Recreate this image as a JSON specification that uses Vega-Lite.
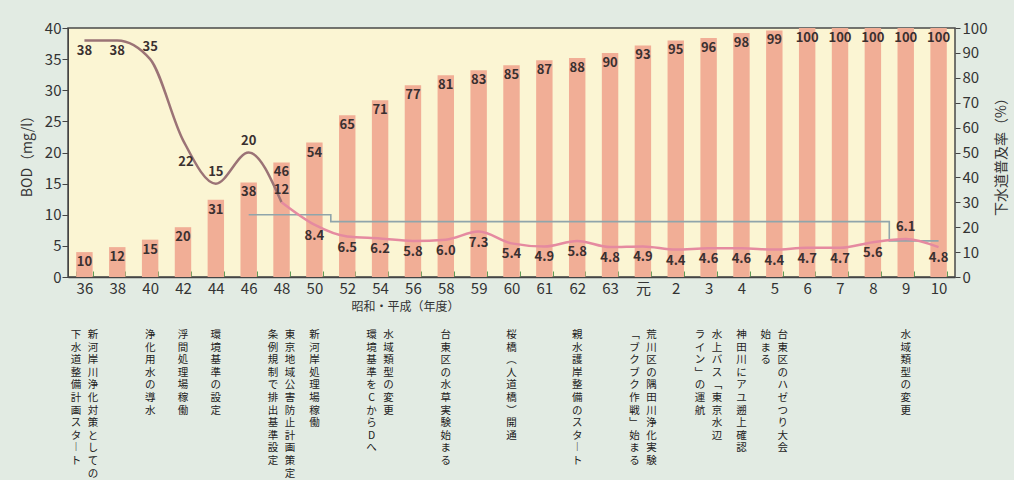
{
  "$schema": "https://vega.github.io/schema/vega-lite/v6.json",
  "width": 887,
  "height": 249,
  "autosize": {"type": "none"},
  "padding": {"left": 68, "top": 28, "right": 59, "bottom": 203},
  "background": "#e2ebe3",
  "config": {
    "font": "Noto Sans CJK JP",
    "view": {"fill": "#fbf5d3", "stroke": "#4a4a4a", "strokeWidth": 1.5},
    "axis": {"labelFont": "Noto Sans CJK JP", "titleFont": "Noto Sans CJK JP", "labelColor": "#333", "titleColor": "#333", "domainColor": "#444", "tickColor": "#444", "grid": false, "titleFontWeight": "normal"}
  },
  "data": {
    "values": [
      {"year": "36", "pct": 10, "bod": 38, "note1": "新河岸川浄化対策としての", "note2": "下水道整備計画スタート"},
      {"year": "38", "pct": 12, "bod": 38},
      {"year": "40", "pct": 15, "bod": 35, "note1": "浄化用水の導水"},
      {"year": "42", "pct": 20, "bod": 22, "note1": "浮間処理場稼働"},
      {"year": "44", "pct": 31, "bod": 15, "note1": "環境基準の設定"},
      {"year": "46", "pct": 38, "bod": 20, "std": 10},
      {"year": "48", "pct": 46, "bod": 12, "std": 10, "note1": "東京地域公害防止計画策定", "note2": "条例規制で排出基準設定"},
      {"year": "50", "pct": 54, "bod": 8.4, "std": 10, "note1": "新河岸処理場稼働"},
      {"year": "52", "pct": 65, "bod": 6.5, "std": 8.9},
      {"year": "54", "pct": 71, "bod": 6.2, "std": 8.9, "note1": "水域類型の変更", "note2": "環境基準をCからDへ"},
      {"year": "56", "pct": 77, "bod": 5.8, "std": 8.9},
      {"year": "58", "pct": 81, "bod": 6.0, "std": 8.9, "note1": "台東区の水草実験始まる"},
      {"year": "59", "pct": 83, "bod": 7.3, "std": 8.9},
      {"year": "60", "pct": 85, "bod": 5.4, "std": 8.9, "note1": "桜橋（人道橋）開通"},
      {"year": "61", "pct": 87, "bod": 4.9, "std": 8.9},
      {"year": "62", "pct": 88, "bod": 5.8, "std": 8.9, "note1": "親水護岸整備のスタート"},
      {"year": "63", "pct": 90, "bod": 4.8, "std": 8.9},
      {"year": "元", "pct": 93, "bod": 4.9, "std": 8.9, "note1": "荒川区の隅田川浄化実験", "note2": "「ブクブク作戦」始まる"},
      {"year": "2", "pct": 95, "bod": 4.4, "std": 8.9},
      {"year": "3", "pct": 96, "bod": 4.6, "std": 8.9, "note1": "水上バス「東京水辺", "note2": "ライン」の運航"},
      {"year": "4", "pct": 98, "bod": 4.6, "std": 8.9, "note1": "神田川にアユ遡上確認"},
      {"year": "5", "pct": 99, "bod": 4.4, "std": 8.9, "note1": "台東区のハゼつり大会", "note2": "始まる"},
      {"year": "6", "pct": 100, "bod": 4.7, "std": 8.9},
      {"year": "7", "pct": 100, "bod": 4.7, "std": 8.9},
      {"year": "8", "pct": 100, "bod": 5.6, "std": 8.9},
      {"year": "9", "pct": 100, "bod": 6.1, "std": 5.8, "note1": "水域類型の変更"},
      {"year": "10", "pct": 100, "bod": 4.8, "std": 5.8}
    ]
  },
  "encoding": {
    "x": {
      "field": "year",
      "type": "nominal",
      "scale": {"domain": ["36","38","40","42","44","46","48","50","52","54","56","58","59","60","61","62","63","元","2","3","4","5","6","7","8","9","10"], "paddingInner": 0.5},
      "axis": {"title": "昭和・平成（年度）", "labelAngle": 0, "labelFontSize": 15, "labelPadding": 10, "tickBand": "extent", "tickColor": "#5f9a55", "tickSize": -6, "domainWidth": 1.5, "titleFontSize": 12, "titleX": 337, "titleY": 24, "titleBaseline": "top"}
    }
  },
  "layer": [
    {
      "encoding": {
        "y": {"field": "pct", "type": "quantitative", "scale": {"domain": [0, 100]}, "title": "下水道普及率（%）",
          "axis": {"orient": "right", "values": [0,10,20,30,40,50,60,70,80,90,100], "labelFontSize": 15, "labelPadding": 2, "tickSize": 5, "titleAngle": -90, "titleFontSize": 14, "titleX": 46, "titleY": 125, "titleAlign": "center", "titleBaseline": "middle", "domain": false}}
      },
      "layer": [
        {"mark": {"type": "bar", "color": "#f1ae96"}},
        {"mark": {"type": "text", "fontSize": 13, "fontWeight": "bold", "color": "#3a3030", "dy": 10, "baseline": "middle"}, "encoding": {"text": {"field": "pct", "type": "quantitative"}}}
      ]
    },
    {
      "encoding": {
        "y": {"field": "bod", "type": "quantitative", "scale": {"domain": [0, 40]}, "title": "BOD（mg/l）",
          "axis": {"orient": "left", "values": [0,5,10,15,20,25,30,35,40], "labelFontSize": 15, "labelPadding": 1, "tickSize": 6, "titleFontSize": 14, "titlePadding": 10}}
      },
      "layer": [
        {"mark": {"type": "line", "interpolate": "step", "color": "#8fa5ab", "strokeWidth": 1.6},
         "encoding": {"y": {"field": "std", "type": "quantitative", "scale": {"domain": [0, 40]}, "title": "BOD（mg/l）"}}},
        {"transform": [{"filter": {"field": "year", "oneOf": ["36","38","40","42","44","46","48"]}}],
         "mark": {"type": "line", "interpolate": "monotone", "color": "#9b7376", "strokeWidth": 2.5}},
        {"transform": [{"filter": {"not": {"field": "year", "oneOf": ["36","38","40","42","44","46"]}}}],
         "mark": {"type": "line", "interpolate": "monotone", "color": "#e58aa0", "strokeWidth": 2.5}},
        {"transform": [{"filter": {"not": {"field": "year", "oneOf": ["40","42","44","46","48","9"]}}}, {"calculate": "datum.bod < 10 ? format(datum.bod, '.1f') : format(datum.bod, 'd')", "as": "bodLabel"}],
         "mark": {"type": "text", "fontSize": 13, "fontWeight": "bold", "color": "#3a3030", "dy": 11, "baseline": "middle"},
         "encoding": {"text": {"field": "bodLabel", "type": "nominal"}}},
        {"transform": [{"filter": {"field": "year", "oneOf": ["40","44","46","48","9"]}}],
         "mark": {"type": "text", "fontSize": 13, "fontWeight": "bold", "color": "#3a3030", "dy": -12, "baseline": "middle"},
         "encoding": {"text": {"field": "bod", "type": "quantitative"}}},
        {"transform": [{"filter": {"field": "year", "oneOf": ["42"]}}],
         "mark": {"type": "text", "fontSize": 13, "fontWeight": "bold", "color": "#3a3030", "dy": 22, "dx": 3, "baseline": "middle"},
         "encoding": {"text": {"field": "bod", "type": "quantitative"}}},
        {"data": {"values": [{}]},
         "mark": {"type": "text", "fontSize": 18, "color": "#333", "align": "left", "baseline": "middle", "dx": 17, "text": "BOD 小台橋地点の年度平均値"},
         "encoding": {"x": {"datum": "42"}, "y": {"datum": 36.5, "type": "quantitative", "scale": {"domain": [0, 40]}, "title": "BOD（mg/l）"}}},
        {"data": {"values": [{}]},
         "mark": {"type": "rule", "color": "#555", "strokeWidth": 1.2, "xOffset": 30, "x2Offset": -11},
         "encoding": {"x": {"datum": "42"}, "x2": {"datum": "42"}, "y": {"datum": 34.8, "type": "quantitative", "scale": {"domain": [0, 40]}, "title": "BOD（mg/l）"}, "y2": {"datum": 28.9}}},
        {"data": {"values": [{}]},
         "mark": {"type": "point", "shape": "triangle", "filled": true, "color": "#555", "opacity": 1, "size": 45, "angle": 227, "xOffset": -10},
         "encoding": {"x": {"datum": "42"}, "y": {"datum": 29.2, "type": "quantitative", "scale": {"domain": [0, 40]}, "title": "BOD（mg/l）"}}},
        {"data": {"values": [{}]},
         "mark": {"type": "text", "fontSize": 16, "fontWeight": "bold", "color": "#333", "align": "center", "baseline": "middle", "dx": 10, "text": "下水道普及率"},
         "encoding": {"x": {"datum": "元"}, "y": {"datum": 29.1, "type": "quantitative", "scale": {"domain": [0, 40]}, "title": "BOD（mg/l）"}}},
        {"data": {"values": [{}]},
         "mark": {"type": "text", "fontSize": 16, "fontWeight": "bold", "color": "#333", "align": "center", "baseline": "middle", "dx": 7, "text": "（隅田川流域（板橋、北、練馬区）の面積比）"},
         "encoding": {"x": {"datum": "元"}, "y": {"datum": 24.9, "type": "quantitative", "scale": {"domain": [0, 40]}, "title": "BOD（mg/l）"}}},
        {"data": {"values": [{}]},
         "mark": {"type": "text", "fontSize": 15, "fontWeight": "bold", "color": "#333", "align": "center", "baseline": "middle", "dx": 20, "text": "環境基準"},
         "encoding": {"x": {"datum": "62"}, "y": {"datum": 10.5, "type": "quantitative", "scale": {"domain": [0, 40]}, "title": "BOD（mg/l）"}}},
        {"transform": [{"filter": "isValid(datum.note1) && !isValid(datum.note2)"}, {"calculate": "split(replace(replace(replace(replace(replace(datum.note1, 'ー', '︱'), '「', '﹁'), '」', '﹂'), '（', '︵'), '）', '︶'), '')", "as": "chars"}],
         "mark": {"type": "text", "fontSize": 10.5, "color": "#222", "align": "center", "baseline": "top", "dy": 53, "lineHeight": 12.6},
         "encoding": {"y": {"datum": 0, "type": "quantitative", "scale": {"domain": [0, 40]}, "title": "BOD（mg/l）"}, "text": {"field": "chars", "type": "nominal"}}},
        {"transform": [{"filter": "isValid(datum.note2)"}, {"calculate": "split(replace(replace(replace(replace(replace(datum.note1, 'ー', '︱'), '「', '﹁'), '」', '﹂'), '（', '︵'), '）', '︶'), '')", "as": "chars"}],
         "mark": {"type": "text", "fontSize": 10.5, "color": "#222", "align": "center", "baseline": "top", "dy": 53, "dx": 8.5, "lineHeight": 12.6},
         "encoding": {"y": {"datum": 0, "type": "quantitative", "scale": {"domain": [0, 40]}, "title": "BOD（mg/l）"}, "text": {"field": "chars", "type": "nominal"}}},
        {"transform": [{"filter": "isValid(datum.note2)"}, {"calculate": "split(replace(replace(replace(replace(replace(datum.note2, 'ー', '︱'), '「', '﹁'), '」', '﹂'), '（', '︵'), '）', '︶'), '')", "as": "chars"}],
         "mark": {"type": "text", "fontSize": 10.5, "color": "#222", "align": "center", "baseline": "top", "dy": 53, "dx": -8.5, "lineHeight": 12.6},
         "encoding": {"y": {"datum": 0, "type": "quantitative", "scale": {"domain": [0, 40]}, "title": "BOD（mg/l）"}, "text": {"field": "chars", "type": "nominal"}}}
      ]
    }
  ],
  "resolve": {"scale": {"y": "independent"}}
}
